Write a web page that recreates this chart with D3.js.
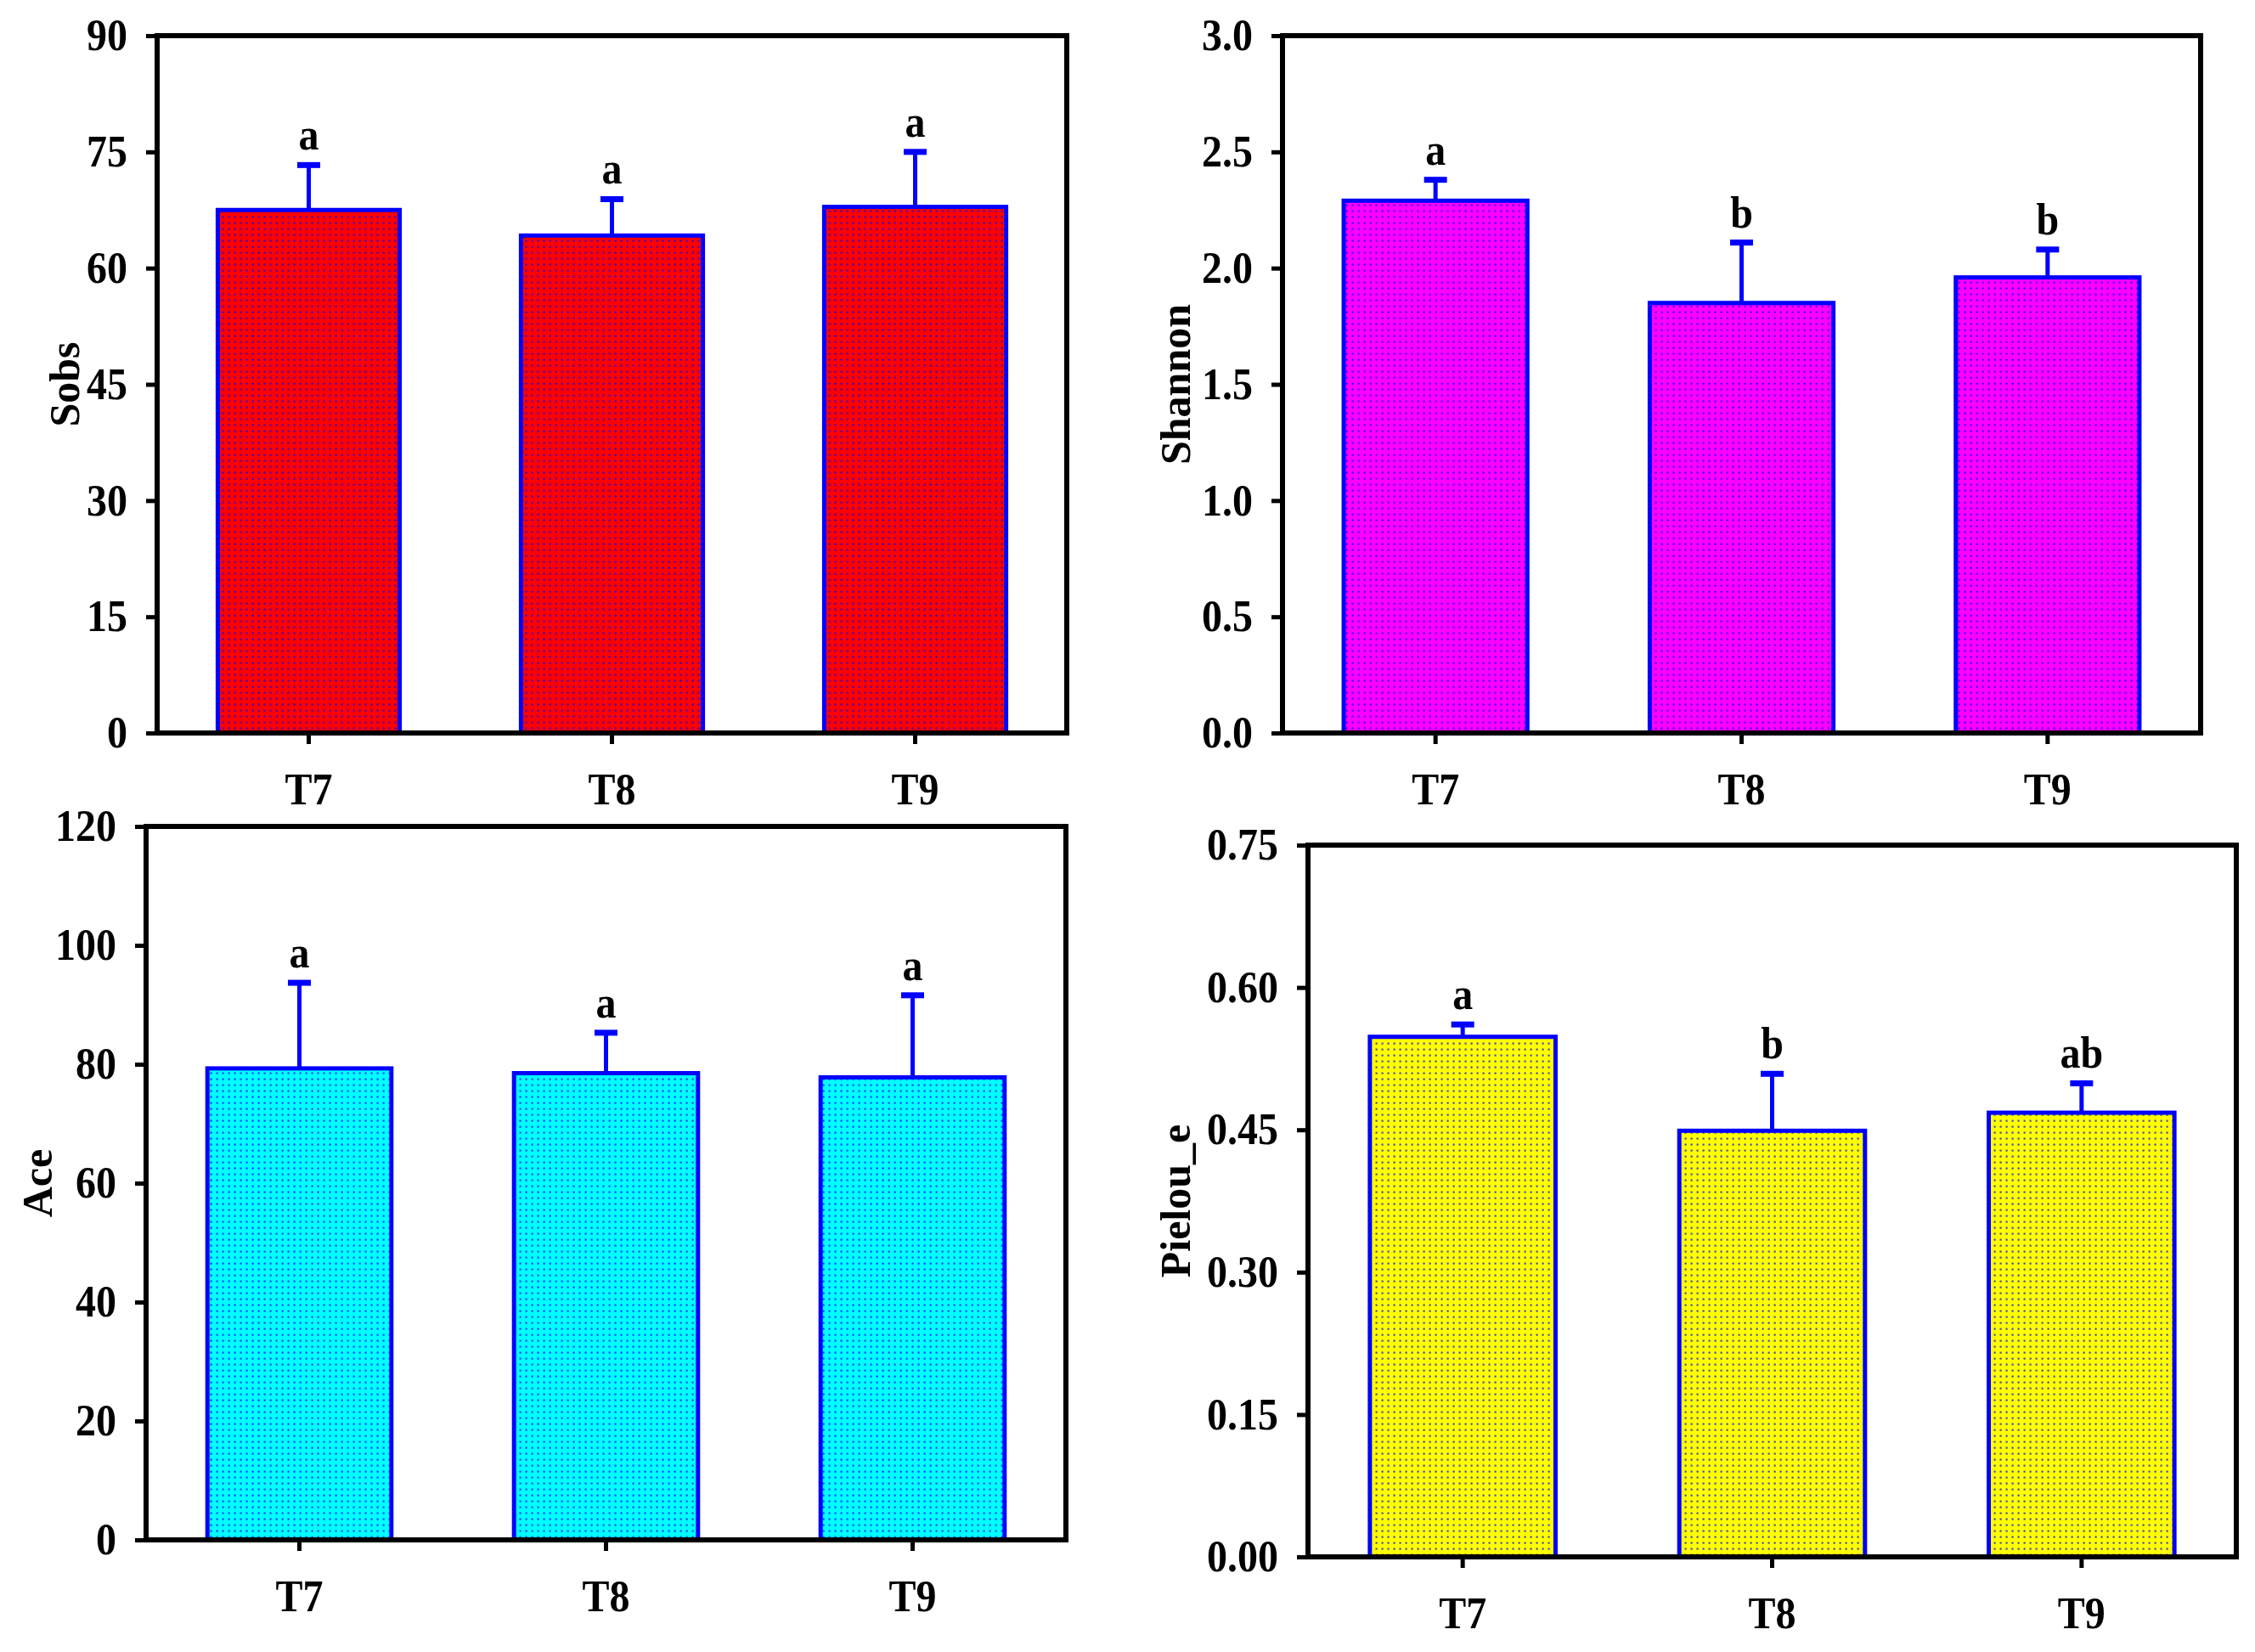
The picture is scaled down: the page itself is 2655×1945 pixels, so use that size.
<!DOCTYPE html>
<html>
<head>
<meta charset="utf-8">
<script src="https://cdn.jsdelivr.net/npm/d3@7"></script>
<style>
  body { margin: 0; background: #fff; }
  svg { display: block; }
  text { font-family: "Liberation Serif", "Times New Roman", serif; font-weight: bold; fill: #000; }
</style>
</head>
<body>
<svg id="chart" width="2655" height="1945"></svg>
<script>
// groups and values
const groups = ["T7", "T8", "T9"];

const sobsMean = [67.5, 64.2, 67.9];
const sobsErr = [5.8, 4.7, 7.1];
const sobsLetters = ["a", "a", "a"];
const sobsTicks = [0, 15, 30, 45, 60, 75, 90];

const shannonMean = [2.29, 1.85, 1.96];
const shannonErr = [0.09, 0.26, 0.12];
const shannonLetters = ["a", "b", "b"];
const shannonTicks = [0, 0.5, 1.0, 1.5, 2.0, 2.5, 3.0];

const aceMean = [79.3, 78.5, 77.8];
const aceErr = [14.4, 6.8, 13.8];
const aceLetters = ["a", "a", "a"];
const aceTicks = [0, 20, 40, 60, 80, 100, 120];

const pielouMean = [0.548, 0.449, 0.468];
const pielouErr = [0.013, 0.060, 0.031];
const pielouLetters = ["a", "b", "ab"];
const pielouTicks = [0, 0.15, 0.30, 0.45, 0.60, 0.75];

// panel layout (pixels)
const panels = [
  { key: "sobs", title: "Sobs", mean: sobsMean, err: sobsErr, letters: sobsLetters, ticks: sobsTicks,
    fmt: d3.format("d"), fill: "#ff0000", l: 185, r: 1256, t: 42, b: 863, titleX: 75 },
  { key: "shannon", title: "Shannon", mean: shannonMean, err: shannonErr, letters: shannonLetters, ticks: shannonTicks,
    fmt: d3.format(".1f"), fill: "#ff00ff", l: 1510, r: 2591, t: 42, b: 863, titleX: 1383 },
  { key: "ace", title: "Ace", mean: aceMean, err: aceErr, letters: aceLetters, ticks: aceTicks,
    fmt: d3.format("d"), fill: "#00ffff", l: 172, r: 1255, t: 973, b: 1813, titleX: 43 },
  { key: "pielou", title: "Pielou_e", mean: pielouMean, err: pielouErr, letters: pielouLetters, ticks: pielouTicks,
    fmt: d3.format(".2f"), fill: "#ffff00", l: 1540, r: 2633, t: 995, b: 1833, titleX: 1383 }
];

const stretch = 1.12;  // the original lettering is a bit taller than wide

const svg = d3.select("#chart");
const defs = svg.append("defs");

panels.forEach(p => {
  // dotted fill like SigmaPlot's fine pattern
  const pat = defs.append("pattern")
    .attr("id", "pat-" + p.key)
    .attr("patternUnits", "userSpaceOnUse")
    .attr("width", 7).attr("height", 7);
  pat.append("rect").attr("width", 7).attr("height", 7).attr("fill", p.fill);
  pat.append("rect").attr("x", 2.5).attr("y", 2.5).attr("width", 2.2).attr("height", 2.2)
    .attr("fill", "#0000ff").attr("opacity", 0.7);

  const x = d3.scaleBand().domain(groups).range([p.l, p.r]).paddingInner(0.4).paddingOuter(0.2);
  const y = d3.scaleLinear().domain([0, p.ticks[p.ticks.length - 1]]).range([p.b, p.t]);

  const g = svg.append("g").attr("class", "panel-" + p.key);
  const rows = groups.map((name, i) => ({ name, mean: p.mean[i], err: p.err[i], letter: p.letters[i] }));

  // bars
  g.selectAll("rect.bar")
    .data(rows)
    .enter()
    .append("rect")
    .attr("class", "bar")
    .attr("x", d => x(d.name))
    .attr("y", d => y(d.mean))
    .attr("width", x.bandwidth())
    .attr("height", d => y(0) - y(d.mean))
    .attr("fill", `url(#pat-${p.key})`)
    .attr("stroke", "#0000ff")
    .attr("stroke-width", 5);

  // upper error bars
  const cx = d => x(d.name) + x.bandwidth() / 2;
  g.selectAll("line.stem")
    .data(rows)
    .enter()
    .append("line")
    .attr("x1", cx).attr("x2", cx)
    .attr("y1", d => y(d.mean)).attr("y2", d => y(d.mean + d.err))
    .attr("stroke", "#0000ff").attr("stroke-width", 5);

  g.selectAll("line.cap")
    .data(rows)
    .enter()
    .append("line")
    .attr("x1", d => cx(d) - 13.5).attr("x2", d => cx(d) + 13.5)
    .attr("y1", d => y(d.mean + d.err)).attr("y2", d => y(d.mean + d.err))
    .attr("stroke", "#0000ff").attr("stroke-width", 7);

  // significance letters
  g.selectAll("text.letter")
    .data(rows)
    .enter()
    .append("text")
    .attr("transform", d => `translate(${cx(d)},${y(d.mean + d.err) - 18}) scale(1,${stretch})`)
    .attr("text-anchor", "middle")
    .style("font-size", "48px")
    .text(d => d.letter);

  // axes
  const yAxis = g.append("g")
    .attr("transform", `translate(${p.l},0)`)
    .call(d3.axisLeft(y).tickValues(p.ticks).tickFormat(p.fmt).tickSize(13).tickPadding(22));
  yAxis.select(".domain").remove();
  yAxis.selectAll(".tick line").attr("stroke", "#000").attr("stroke-width", 5);
  yAxis.selectAll(".tick text")
    .attr("transform", `scale(1,${stretch})`)
    .attr("dy", "0.31em")
    .style("font-size", "48px").attr("fill", "#000");

  const xAxis = g.append("g")
    .attr("transform", `translate(0,${p.b})`)
    .call(d3.axisBottom(x).tickSize(13));
  xAxis.select(".domain").remove();
  xAxis.selectAll(".tick line").attr("stroke", "#000").attr("stroke-width", 5);
  xAxis.selectAll(".tick text")
    .attr("transform", `scale(1,${stretch})`)
    .attr("y", 84 / stretch).attr("dy", 0)
    .style("font-size", "48px").attr("fill", "#000");

  // frame
  g.append("rect")
    .attr("x", p.l).attr("y", p.t)
    .attr("width", p.r - p.l).attr("height", p.b - p.t)
    .attr("fill", "none")
    .attr("stroke", "#000")
    .attr("stroke-width", 6);

  // y title
  g.append("text")
    .attr("transform", `translate(${p.titleX},${(p.t + p.b) / 2}) rotate(-90)`)
    .attr("dy", "0.35em")
    .attr("text-anchor", "middle")
    .style("font-size", "50px")
    .text(p.title);
});
</script>
</body>
</html>
